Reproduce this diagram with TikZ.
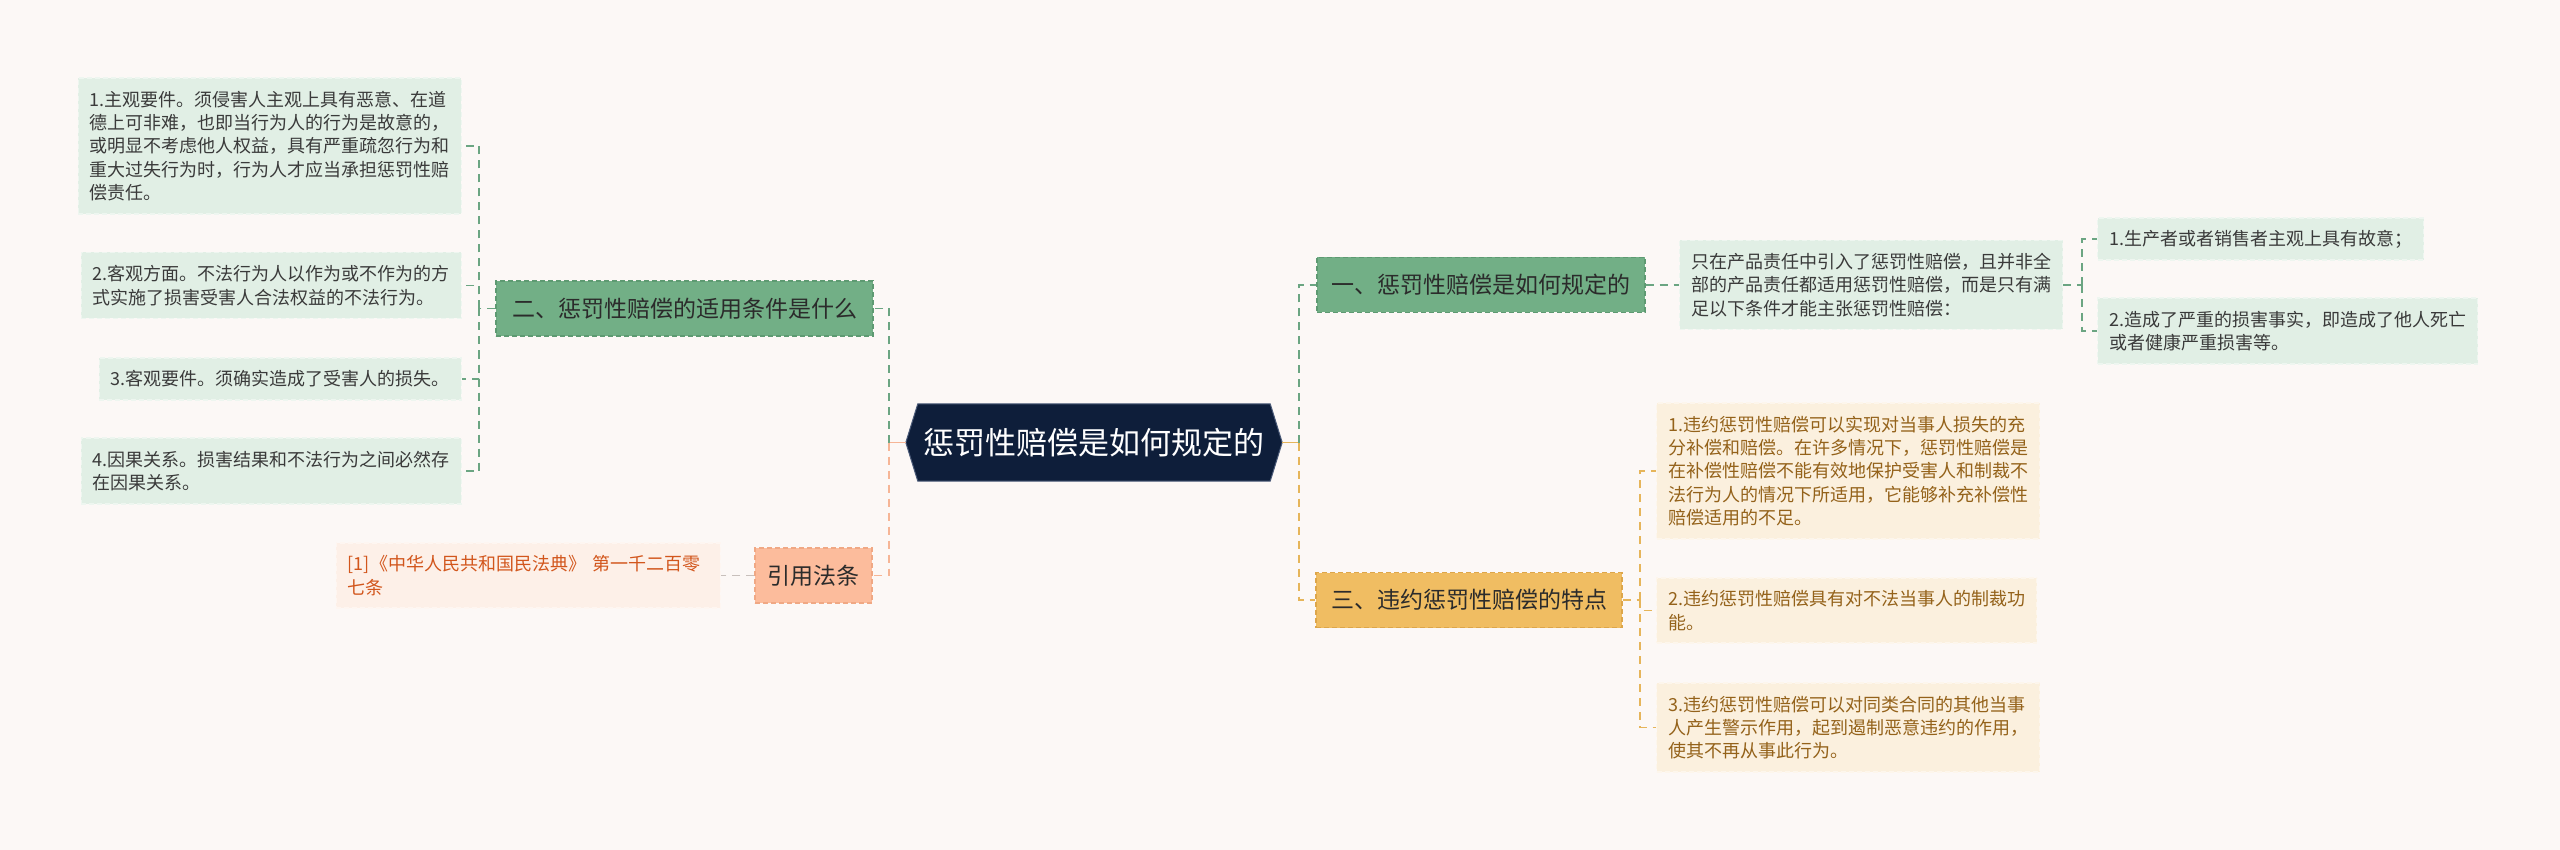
\documentclass[tikz,border=0pt]{standalone}
\usepackage{fontspec}
\setmainfont{Noto Sans CJK SC}
\usetikzlibrary{backgrounds}
\definecolor{bg}{HTML}{FCF8F6}
\definecolor{navy}{HTML}{0E1E3A}
\definecolor{navyb}{HTML}{4A5A78}
\definecolor{gbf}{HTML}{72AF86}
\definecolor{gbd}{HTML}{5E9A72}
\definecolor{glf}{HTML}{E1EFE5}
\definecolor{gld}{HTML}{EEF6F0}
\definecolor{gltext}{HTML}{3A3A3A}
\definecolor{glc}{HTML}{6BA582}
\definecolor{obf}{HTML}{F0BD62}
\definecolor{obd}{HTML}{DDA64A}
\definecolor{olf}{HTML}{FBF0DE}
\definecolor{old}{HTML}{FDF6EC}
\definecolor{oltext}{HTML}{94621A}
\definecolor{olc}{HTML}{E6B55A}
\definecolor{sbf}{HTML}{FCBC9C}
\definecolor{sbd}{HTML}{F0A884}
\definecolor{slc}{HTML}{F6B596}
\definecolor{rlf}{HTML}{FDF0E8}
\definecolor{rld}{HTML}{FEF6F1}
\definecolor{rltext}{HTML}{D2561C}
\definecolor{rlc}{HTML}{C8C0BC}
\definecolor{btext}{HTML}{2B2B2B}
\tikzset{
  conn/.style={line width=1.8pt, dash pattern=on 8pt off 6pt},
  gline/.style={conn, draw=glc},
  oline/.style={conn, draw=olc},
  sline/.style={conn, draw=slc},
  rline/.style={conn, draw=rlc},
  branch/.style={rectangle, inner sep=0pt, font=\fontsize{23}{28}\selectfont, text=btext, line width=1.2pt, dash pattern=on 5pt off 3pt, minimum height=55pt},
  gbranch/.style={branch, fill=gbf, draw=gbd},
  obranch/.style={branch, fill=obf, draw=obd},
  sbranch/.style={branch, fill=sbf, draw=sbd},
  leaf/.style={rectangle, align=left, inner xsep=11.5pt, inner ysep=0pt, font=\fontsize{18}{23.3}\selectfont, line width=1.2pt, dash pattern=on 5pt off 3pt},
  gleaf/.style={leaf, fill=glf, draw=gld, text=gltext},
  oleaf/.style={leaf, fill=olf, draw=old, text=oltext},
  rleaf/.style={leaf, fill=rlf, draw=rld, text=rltext},
  hexc/.style={rectangle, inner sep=0pt, minimum width=376pt, minimum height=77pt, text=white, font=\fontsize{31}{36}\selectfont},
}
\begin{document}
\begin{tikzpicture}[x=1pt,y=-1pt]
\begin{scope}[on background layer]
\fill[bg] (0,0) rectangle (2560,850);
\end{scope}
\useasboundingbox (0,0) rectangle (2560,850);

% center
\node[hexc] (c) at (1094,442.5) {惩罚性赔偿是如何规定的};
\begin{scope}[on background layer]
\fill[navy, draw=navyb, line width=1pt] (c.west) -- ([xshift=12pt]c.north west) -- ([xshift=-12pt]c.north east) -- (c.east) -- ([xshift=-12pt]c.south east) -- ([xshift=12pt]c.south west) -- cycle;
\end{scope}

% left side
\node[gbranch, minimum width=377pt] (b2) at (684.5,308.5) {二、惩罚性赔偿的适用条件是什么};
\node[gleaf, anchor=east, minimum height=136pt] (l1) at (462,146) {1.主观要件。须侵害人主观上具有恶意、在道\\德上可非难，也即当行为人的行为是故意的，\\或明显不考虑他人权益，具有严重疏忽行为和\\重大过失行为时，行为人才应当承担惩罚性赔\\偿责任。};
\node[gleaf, anchor=east, minimum height=66pt] (l2) at (462,285.5) {2.客观方面。不法行为人以作为或不作为的方\\式实施了损害受害人合法权益的不法行为。};
\node[gleaf, anchor=east, minimum height=42pt] (l3) at (462,379) {3.客观要件。须确实造成了受害人的损失。};
\node[gleaf, anchor=east, minimum height=66pt] (l4) at (462,471) {4.因果关系。损害结果和不法行为之间必然存\\在因果关系。};
\node[sbranch, minimum width=117pt] (yf) at (813.5,575.5) {引用法条};
\node[rleaf, anchor=east, minimum height=65pt, text width=361pt] (ref) at (721,575.5) {[1]《中华人民共和国民法典》 第一千二百零\\七条};

% right side
\node[gbranch, minimum width=328pt] (b1) at (1481,285) {一、惩罚性赔偿是如何规定的};
\node[gleaf, anchor=west, minimum height=89pt] (mid) at (1679,285) {只在产品责任中引入了惩罚性赔偿，且并非全\\部的产品责任都适用惩罚性赔偿，而是只有满\\足以下条件才能主张惩罚性赔偿：};
\node[gleaf, anchor=west, minimum height=42pt] (r1) at (2097,239) {1.生产者或者销售者主观上具有故意；};
\node[gleaf, anchor=west, minimum height=66pt] (r2) at (2097,331) {2.造成了严重的损害事实，即造成了他人死亡\\或者健康严重损害等。};
\node[obranch, minimum width=306pt] (b3) at (1469,600) {三、违约惩罚性赔偿的特点};
\node[oleaf, anchor=west, minimum height=136pt] (o1) at (1656,471) {1.违约惩罚性赔偿可以实现对当事人损失的充\\分补偿和赔偿。在许多情况下，惩罚性赔偿是\\在补偿性赔偿不能有效地保护受害人和制裁不\\法行为人的情况下所适用，它能够补充补偿性\\赔偿适用的不足。};
\node[oleaf, anchor=west, minimum height=65pt] (o2) at (1656,610.5) {2.违约惩罚性赔偿具有对不法当事人的制裁功\\能。};
\node[oleaf, anchor=west, minimum height=89pt] (o3) at (1656,727.5) {3.违约惩罚性赔偿可以对同类合同的其他当事\\人产生警示作用，起到遏制恶意违约的作用，\\使其不再从事此行为。};

% junction coordinates
\coordinate (lt) at (889,442.5);
\coordinate (rt) at (1299,442.5);
\coordinate (lv) at (479,308.5);
\coordinate (mv) at (2082,285);
\coordinate (ov) at (1640,600);

\begin{scope}[on background layer]
\draw[draw=slc, line width=1.8pt] (c.west) -- (lt);
\draw[draw=olc, line width=1.8pt] (c.east) -- (rt);
\draw[gline] (lt) |- (b2.east);
\draw[sline] (lt) |- (yf.east);
\draw[gline] (rt) |- (b1.west);
\draw[oline] (rt) |- (b3.west);
\draw[gline] (b2.west) -- (lv);
\draw[gline] (lv) |- (l1.east);
\draw[gline] (lv) |- (l2.east);
\draw[gline] (lv) |- (l3.east);
\draw[gline] (lv) |- (l4.east);
\draw[rline] (yf.west) -- (ref.east);
\draw[gline] (b1.east) -- (mid.west);
\draw[gline] (mid.east) -- (mv);
\draw[gline] (mv) |- (r1.west);
\draw[gline] (mv) |- (r2.west);
\draw[oline] (b3.east) -- (ov);
\draw[oline] (ov) |- (o1.west);
\draw[oline] (ov) |- (o2.west);
\draw[oline] (ov) |- (o3.west);
\end{scope}
\end{tikzpicture}
\end{document}
